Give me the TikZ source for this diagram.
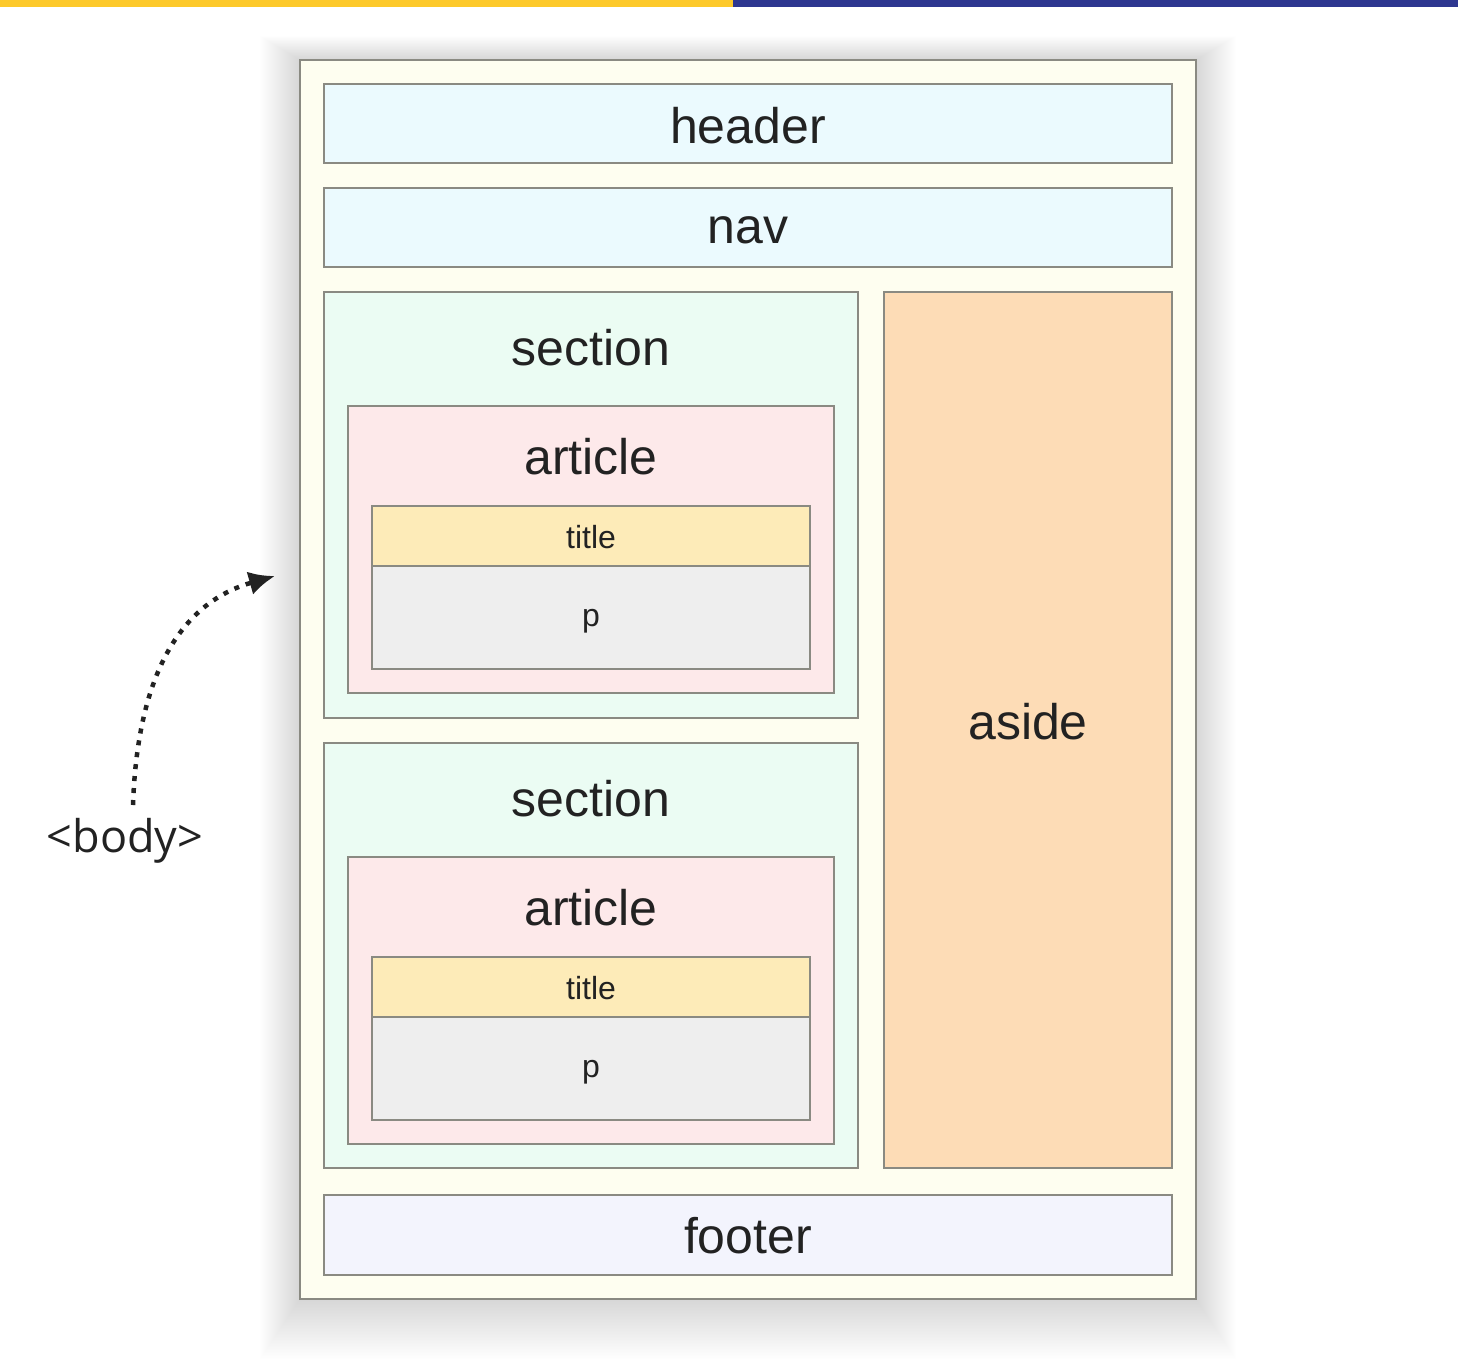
\documentclass[tikz,border=0pt]{standalone}
\usepackage{fontspec}
\setmainfont{Liberation Sans}
\newfontfamily\tagfont{Open Sans}
\usetikzlibrary{arrows.meta}
\definecolor{topyellow}{HTML}{FDC92A}
\definecolor{topblue}{HTML}{2E3790}
\definecolor{edge}{HTML}{8A8A82}
\definecolor{bodyfill}{HTML}{FEFEF0}
\definecolor{headfill}{HTML}{EBFAFE}
\definecolor{secfill}{HTML}{EBFCF3}
\definecolor{artfill}{HTML}{FDE9EA}
\definecolor{titlefill}{HTML}{FDEBB8}
\definecolor{pfill}{HTML}{EEEEEE}
\definecolor{asidefill}{HTML}{FDDCB6}
\definecolor{footfill}{HTML}{F3F4FD}
\definecolor{ink}{HTML}{222222}
\tikzset{
  box/.style={draw=edge, line width=2pt, inner sep=0pt, outer sep=0pt, text=ink},
  biglabel/.style={text=ink, inner sep=0pt, font=\fontsize{50}{56}\selectfont},
  smalllabel/.style={text=ink, inner sep=0pt, font=\fontsize{32}{36}\selectfont},
}
\begin{document}
\begin{tikzpicture}[x=1pt, y=-1pt]
\useasboundingbox (0,0) rectangle (1458,1363);
\fill[white] (0,0) rectangle (1458,1363);
\fill[topyellow] (0,0) rectangle (733,7);
\fill[topblue] (733,0) rectangle (1458,7);
% soft shadow
\foreach \i in {1,...,40}
  \fill[black, opacity=0.0028] (300-\i, 60-0.6*\i) rectangle (1196+\i, 1299+1.5*\i);
% body
\node[box, fill=bodyfill, minimum width=896, minimum height=1239] (body) at (748,679.5) {};
\node[box, fill=headfill, minimum width=848, minimum height=79] (header) at (748,123.5) {};
\node[biglabel] (headerlab) at (748,126) {header};
\node[box, fill=headfill, minimum width=848, minimum height=79] (nav) at (748,227.5) {};
\node[biglabel] (navlab) at (748,230) {nav};
\node[box, fill=asidefill, minimum width=288, minimum height=876] (aside) at (1028,730) {};
\node[biglabel] (asidelab) at (1028,722) {aside};
\node[box, fill=footfill, minimum width=848, minimum height=80] (footer) at (748,1235) {};
\node[biglabel] (footerlab) at (748,1236) {footer};
% section 1
\node[box, fill=secfill, minimum width=534, minimum height=426] (sec1) at (591,505) {};
\node[biglabel] (sec1lab) at (591,348) {section};
\node[box, fill=artfill, minimum width=486, minimum height=287] (art1) at (591,549.5) {};
\node[biglabel] (art1lab) at (591,457) {article};
\node[box, fill=titlefill, minimum width=438, minimum height=60] (tit1) at (591,536) {};
\node[smalllabel] (tit1lab) at (591,537) {title};
\node[box, fill=pfill, minimum width=438, minimum height=103] (p1) at (591,617.5) {};
\node[smalllabel] (p1lab) at (591,621) {p};
% section 2
\node[box, fill=secfill, minimum width=534, minimum height=425] (sec2) at (591,955.5) {};
\node[biglabel] (sec2lab) at (591,799) {section};
\node[box, fill=artfill, minimum width=486, minimum height=287] (art2) at (591,1000.5) {};
\node[biglabel] (art2lab) at (591,908) {article};
\node[box, fill=titlefill, minimum width=438, minimum height=60] (tit2) at (591,987) {};
\node[smalllabel] (tit2lab) at (591,988) {title};
\node[box, fill=pfill, minimum width=438, minimum height=103] (p2) at (591,1068.5) {};
\node[smalllabel] (p2lab) at (591,1072) {p};
% body tag and arrow
\node[text=ink, inner sep=0pt, font=\tagfont\fontsize{45}{50}\selectfont] (tag) at (125,841) {<body>};
\coordinate (start) at (133,805);
\coordinate (tip) at (275,576);
\draw[ink, line width=4.5pt, dash pattern=on 5pt off 7pt, -{Latex[length=26pt, width=24pt]}]
  (start) .. controls (138,660) and (190,600) .. (tip);
\end{tikzpicture}
\end{document}
